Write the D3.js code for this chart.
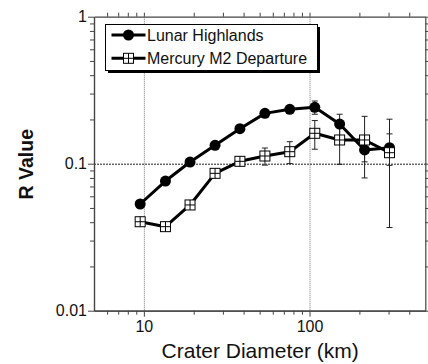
<!DOCTYPE html>
<html>
<head>
<meta charset="utf-8">
<script src="https://cdn.jsdelivr.net/npm/d3@7"></script>
<style>
    body { margin: 0; background: #fff; }
    text { font-family: "Liberation Sans", Arial, Helvetica, sans-serif; fill: #111; }
</style>
</head>
<body>
<div id="grafico"></div>
<script>

//Crater diameter bins (km), sqrt(2) spaced
const diametros = [9.5, 13.5, 19, 26.9, 38, 53.8, 76, 107.6, 152, 215, 304];

//Lunar Highlands R values and error bars
const lunarR = [0.0532, 0.0762, 0.1026, 0.1334, 0.173, 0.220, 0.2344, 0.242, 0.186, 0.124, 0.1285];
const lunarErro = [0, 0, 0, 0, 0, 0, 0, 0.025, 0.031, 0.021, 0.031];

//Mercury M2 Departure R values and error bars
const mercurioR = [0.0403, 0.0373, 0.0524, 0.086, 0.1038, 0.1128, 0.1207, 0.161, 0.145, 0.145, 0.1188];
const mercurioErro = [0, 0, 0, 0, 0, 0.015, 0.0205, 0.0355, 0.046, 0.065, 0.082];

const ticksX = [10, 100];
const rotulosX = ["10", "100"];
const ticksY = [0.01, 0.1, 1];
const rotulosY = ["0.01", "0.1", "1"];

const nomesSeries = ["Lunar Highlands", "Mercury M2 Departure"];


const largura = 428, altura = 364;
const area = {left: 94, right: 425.3, top: 16.7, bottom: 310.7};

const svg = d3.select("#grafico").append("svg")
    .attr("width", largura)
    .attr("height", altura);

const x = d3.scaleLog().domain([5, 500]).range([area.left, area.right]);
const y = d3.scaleLog().domain([0.01, 1]).range([area.bottom, area.top]);

//Minor ticks: 2..9 of every decade inside the domain
function ticksMenores(escala){
    let [a, b] = escala.domain();
    let lista = [];
    for (let dec = 0.001; dec <= 1000; dec *= 10){
        for (let m = 2; m <= 9; m++){
            let v = +(m * dec).toPrecision(3);
            if (v > a && v < b) lista.push(v);
        }
    }
    return lista;
}

const menoresX = ticksMenores(x);
const menoresY = ticksMenores(y);

//Grid lines (dotted)
svg.append("g").selectAll("line").data(ticksX).enter().append("line")
    .attr("x1", d => x(d) + 0.5).attr("x2", d => x(d) + 0.5)
    .attr("y1", area.top).attr("y2", area.bottom)
    .attr("stroke", "#777").attr("stroke-width", 1).attr("stroke-dasharray", "1,1");

svg.append("line")
    .attr("x1", area.left).attr("x2", area.right)
    .attr("y1", y(0.1) + 0.5).attr("y2", y(0.1) + 0.5)
    .attr("stroke", "#222").attr("stroke-width", 1).attr("stroke-dasharray", "2,1");

//Axes on all four sides, ticks outward
function estilizar(g){
    g.select(".domain").attr("stroke", "#444").attr("stroke-width", 1.2);
    g.selectAll(".tick line").attr("stroke", "#444").attr("stroke-width", 1);
    g.selectAll("text").attr("font-size", 16).attr("fill", "#111")
        .attr("font-family", "'Liberation Sans', Arial, sans-serif");
}

svg.append("g").attr("transform", `translate(0,${area.bottom})`)
    .call(d3.axisBottom(x).tickValues(menoresX).tickSize(4).tickSizeOuter(0).tickFormat(""))
    .call(estilizar);
svg.append("g").attr("transform", `translate(0,${area.bottom})`)
    .call(d3.axisBottom(x).tickValues(ticksX).tickSize(6).tickSizeOuter(0).tickPadding(4)
        .tickFormat((d, i) => rotulosX[i]))
    .call(estilizar);

svg.append("g").attr("transform", `translate(0,${area.top})`)
    .call(d3.axisTop(x).tickValues(menoresX.concat(ticksX)).tickSize(4).tickSizeOuter(0).tickFormat(""))
    .call(estilizar);

svg.append("g").attr("transform", `translate(${area.left},0)`)
    .call(d3.axisLeft(y).tickValues(menoresY).tickSize(4).tickSizeOuter(0).tickFormat(""))
    .call(estilizar);
svg.append("g").attr("transform", `translate(${area.left},0)`)
    .call(d3.axisLeft(y).tickValues(ticksY).tickSize(6).tickSizeOuter(0).tickPadding(1)
        .tickFormat((d, i) => rotulosY[i]))
    .call(estilizar);

svg.append("g").attr("transform", `translate(${area.right},0)`)
    .call(d3.axisRight(y).tickValues(menoresY.concat(ticksY)).tickSize(4).tickSizeOuter(0).tickFormat(""))
    .call(estilizar);

//Axis titles
svg.append("text")
    .attr("x", (area.left + area.right) / 2 + 0.5)
    .attr("y", 357.5)
    .attr("text-anchor", "middle")
    .attr("font-size", 21)
    .text("Crater Diameter (km)");

svg.append("text")
    .attr("transform", `translate(33,${(area.top + area.bottom) / 2 + 0.5}) rotate(-90)`)
    .attr("text-anchor", "middle")
    .attr("font-size", 19.5)
    .attr("font-weight", "bold")
    .text("R Value");


const series = [
    {nome: nomesSeries[0], valores: lunarR, erros: lunarErro, marcador: "circulo"},
    {nome: nomesSeries[1], valores: mercurioR, erros: mercurioErro, marcador: "quadrado"}
];

const linha = d3.line().x(d => x(d.d)).y(d => y(d.r));

series.forEach(s => {
    let pontos = diametros.map((d, i) => ({d: d, r: s.valores[i], e: s.erros[i]}));
    s.pontos = pontos;

    //Error bars
    let barras = svg.append("g").selectAll("g").data(pontos.filter(p => p.e > 0)).enter().append("g")
        .attr("stroke", "#222").attr("stroke-width", 1);
    barras.append("line")
        .attr("x1", p => x(p.d)).attr("x2", p => x(p.d))
        .attr("y1", p => y(p.r + p.e)).attr("y2", p => y(p.r - p.e));
    barras.append("line")
        .attr("x1", p => x(p.d) - 3).attr("x2", p => x(p.d) + 3)
        .attr("y1", p => y(p.r + p.e)).attr("y2", p => y(p.r + p.e));
    barras.append("line")
        .attr("x1", p => x(p.d) - 3).attr("x2", p => x(p.d) + 3)
        .attr("y1", p => y(p.r - p.e)).attr("y2", p => y(p.r - p.e));
});

series.forEach(s => {
    svg.append("path").datum(s.pontos)
        .attr("d", linha)
        .attr("fill", "none")
        .attr("stroke", "#000")
        .attr("stroke-width", 3)
        .attr("stroke-linejoin", "round");
});

function desenharMarcador(g, tipo){
    if (tipo == "circulo"){
        g.append("circle").attr("r", 5.5).attr("fill", "#000");
    }else{
        g.append("rect").attr("x", -5).attr("y", -5).attr("width", 10).attr("height", 10)
            .attr("fill", "#fff").attr("stroke", "#000").attr("stroke-width", 1);
        g.append("line").attr("x1", -5).attr("x2", 5).attr("y1", 0).attr("y2", 0)
            .attr("stroke", "#000").attr("stroke-width", 1);
        g.append("line").attr("x1", 0).attr("x2", 0).attr("y1", -5).attr("y2", 5)
            .attr("stroke", "#000").attr("stroke-width", 1);
    }
}

series.forEach(s => {
    svg.append("g").selectAll("g").data(s.pontos).enter().append("g")
        .attr("transform", p => `translate(${x(p.d)},${y(p.r)})`)
        .each(function(){ desenharMarcador(d3.select(this), s.marcador); });
});

//Legend with drop shadow
const legenda = svg.append("g");
legenda.append("rect")
    .attr("x", 108).attr("y", 27).attr("width", 212).attr("height", 46)
    .attr("fill", "#000");
legenda.append("rect")
    .attr("x", 105.5).attr("y", 24.5).attr("width", 212).attr("height", 46)
    .attr("fill", "#fff").attr("stroke", "#000").attr("stroke-width", 1);

series.forEach((s, i) => {
    let ly = 35 + i * 23.3;
    legenda.append("line")
        .attr("x1", 111.5).attr("x2", 145.5)
        .attr("y1", ly).attr("y2", ly)
        .attr("stroke", "#000").attr("stroke-width", 3);
    let m = legenda.append("g").attr("transform", `translate(128.5,${ly})`);
    desenharMarcador(m, s.marcador);
    legenda.append("text")
        .attr("x", 147)
        .attr("y", ly + 5.8)
        .attr("font-size", 16)
        .text(s.nome);
});

</script>
</body>
</html>
